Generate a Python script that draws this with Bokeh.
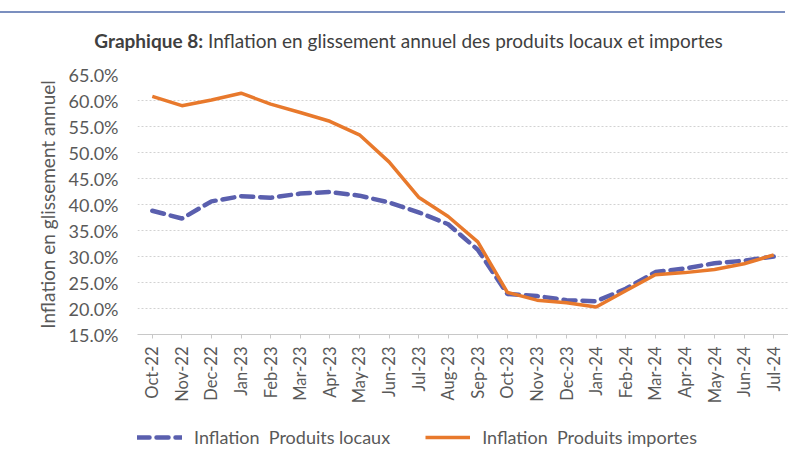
import math
from bokeh.plotting import figure
from bokeh.layouts import column
from bokeh.models import (ColumnDataSource, FactorRange, Legend, LegendItem, Div,
                          PrintfTickFormatter, SingleIntervalTicker)
from bokeh.embed import file_html
from bokeh.resources import INLINE

months = ["Oct-22", "Nov-22", "Dec-22", "Jan-23", "Feb-23", "Mar-23", "Apr-23", "May-23",
          "Jun-23", "Jul-23", "Aug-23", "Sep-23", "Oct-23", "Nov-23", "Dec-23", "Jan-24",
          "Feb-24", "Mar-24", "Apr-24", "May-24", "Jun-24", "Jul-24"]
locaux = [38.8, 37.3, 40.6, 41.6, 41.3, 42.1, 42.4, 41.7, 40.4, 38.5, 36.2, 31.3,
          22.8, 22.4, 21.6, 21.4, 23.8, 27.0, 27.7, 28.7, 29.2, 30.0]
importes = [60.8, 59.0, 60.1, 61.4, 59.3, 57.7, 56.0, 53.4, 48.2, 41.4, 37.7, 32.8,
            23.1, 21.6, 21.1, 20.3, 23.4, 26.5, 26.9, 27.5, 28.6, 30.3]

title_bold = "Graphique 8:"
title_rest = "Inflation en glissement annuel des produits locaux et importes"
y_label = "Inflation en glissement annuel"
name_locaux = "Inflation  Produits locaux"
name_importes = "Inflation  Produits importes"

FONT = "Lato"
GRAY = "#595959"
BLUE = "#5a5fae"
ORANGE = "#e8792c"

src = ColumnDataSource(dict(m=months, loc=locaux, imp=importes))

title = Div(text=f"<b>{title_bold}</b> {title_rest}", width=785, height=50,
            margin=(11, 0, 0, 0),
            styles={"font-family": FONT, "font-size": "19px", "color": "#404040",
                    "text-align": "center", "padding-top": "17px", "padding-left": "32px",
                    "box-sizing": "border-box", "line-height": "22px",
                    "border-top": "2px solid #7b8fbf"})

# ---- main chart ----
p = figure(x_range=FactorRange(*months, range_padding=0), y_range=(15, 65),
           width=788, height=353, output_backend="svg", toolbar_location=None,
           min_border_left=137, min_border_right=0, min_border_top=13, min_border_bottom=80)
p.outline_line_color = None
p.background_fill_color = "white"

p.line("m", "loc", source=src, line_color=BLUE, line_width=4.5,
       line_dash="12 7", line_cap="round")
p.line("m", "imp", source=src, line_color=ORANGE, line_width=3.5)

p.yaxis.ticker = SingleIntervalTicker(interval=5)
p.yaxis.formatter = PrintfTickFormatter(format="%.1f%%")
p.yaxis.axis_line_color = None
p.yaxis.major_tick_line_color = None
p.yaxis.minor_tick_line_color = None
p.yaxis.major_label_standoff = 13
p.yaxis.major_label_text_font = FONT
p.yaxis.major_label_text_font_size = "18px"
p.yaxis.major_label_text_color = GRAY
p.yaxis.axis_label = y_label
p.yaxis.axis_label_text_font = FONT
p.yaxis.axis_label_text_font_size = "19px"
p.yaxis.axis_label_text_font_style = "normal"
p.yaxis.axis_label_text_color = GRAY
p.yaxis.axis_label_standoff = 7

p.xaxis.axis_line_color = "#c8c8c8"
p.xaxis.major_tick_line_color = "#c8c8c8"
p.xaxis.major_tick_in = 0
p.xaxis.major_tick_out = 4
p.xaxis.major_label_orientation = math.pi / 2
p.xaxis.major_label_standoff = 8
p.xaxis.major_label_text_font = FONT
p.xaxis.major_label_text_font_size = "16.5px"
p.xaxis.major_label_text_color = GRAY

p.xgrid.grid_line_color = None
p.ygrid.grid_line_color = "#d2d2d2"
p.ygrid.grid_line_dash = "2 2"
p.ygrid.grid_line_width = 1

# ---- legend strip ----
lg = figure(x_range=FactorRange(*months), y_range=(15, 65), width=788, height=41,
            output_backend="svg", toolbar_location=None, x_axis_type=None, y_axis_type=None,
            min_border_left=0, min_border_right=0, min_border_top=0, min_border_bottom=0)
lg.outline_line_color = None
lg.grid.visible = False
l_loc = lg.line("m", "loc", source=src, line_color=BLUE, line_width=4.5,
                line_dash="12 7", line_cap="round", visible=False)
l_imp = lg.line("m", "imp", source=src, line_color=ORANGE, line_width=3.5, visible=False)
legend = Legend(items=[LegendItem(label=name_locaux, renderers=[l_loc]),
                       LegendItem(label=name_importes, renderers=[l_imp])],
                orientation="horizontal", location=(0, 7),
                label_text_font=FONT, label_text_font_size="18px", label_text_color=GRAY,
                glyph_width=45, glyph_height=20, label_height=20, label_standoff=12,
                spacing=35, padding=0, margin=0, border_line_color=None,
                background_fill_alpha=0, inactive_fill_alpha=0)
lg.add_layout(legend, "center")

layout = column(title, p, lg, spacing=0)

open("out.html", "w").write(file_html(layout, INLINE))
